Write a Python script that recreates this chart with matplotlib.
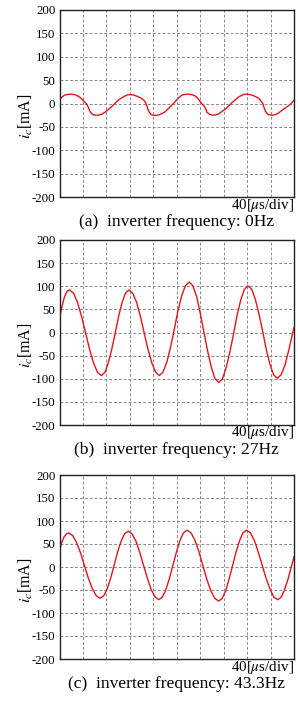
import matplotlib
matplotlib.use("Agg")
import matplotlib.pyplot as plt

plt.rcParams['font.family'] = ['Liberation Serif', 'DejaVu Serif']
plt.rcParams['mathtext.fontset'] = 'stix'

# time axis in divisions (40 us/div), current in mA
t_a = [0.0, 0.11, 0.22, 0.36, 0.51, 0.65, 0.79, 0.9, 1.0, 1.1,
       1.19, 1.29, 1.36, 1.43, 1.55, 1.65, 1.8, 1.93, 2.08, 2.22, 2.36,
       2.5, 2.65, 2.79, 2.9, 3.0, 3.14, 3.28, 3.4, 3.5, 3.6,
       3.67, 3.73, 3.78, 3.85, 3.92, 4.05, 4.21, 4.35, 4.5, 4.64,
       4.78, 4.9, 4.99, 5.1, 5.22, 5.36, 5.5, 5.65, 5.79, 5.9,
       6.0, 6.1, 6.19, 6.25, 6.29, 6.4, 6.5, 6.65, 6.79, 6.93,
       7.07, 7.22, 7.36, 7.5, 7.64, 7.78, 7.93, 8.07, 8.21, 8.35,
       8.5, 8.6, 8.67, 8.72, 8.78, 8.85, 8.92, 9.05, 9.21, 9.35,
       9.5, 9.65, 9.79, 9.9, 10.0]
ic_a = [9, 14, 18, 19.5, 20, 19, 16, 12, 7, 2,
        -4, -16, -21, -24, -25, -25, -23, -19, -13, -7, 0,
        7, 12, 16, 18.5, 19, 18.5, 16, 13.5, 11, 7,
        2, -6, -14, -20, -24, -25.5, -25, -22, -18, -11,
        -4, 2, 7, 13, 18, 19.5, 20, 19, 16, 11,
        4, -2, -7, -13, -19, -23, -25, -24.5, -22, -17,
        -12, -5, 2, 8, 14, 18, 20, 19.5, 18, 15,
        11, 5, 0, -8, -16, -21, -24, -25, -24, -20,
        -14, -9, -4, 1, 7]

t_b = [0.0, 0.1, 0.2, 0.3, 0.37,
       0.43, 0.60, 0.77, 0.94, 1.11, 1.28, 1.45, 1.62,
       1.79, 1.94, 2.08, 2.23, 2.38, 2.52, 2.67, 2.81,
       2.96, 3.12, 3.29, 3.45, 3.61, 3.77, 3.94, 4.10,
       4.26, 4.42, 4.58, 4.74, 4.90, 5.05, 5.21, 5.37,
       5.53, 5.69, 5.85, 6.00, 6.16, 6.32, 6.48, 6.63,
       6.79, 6.95, 7.10, 7.26, 7.42, 7.57, 7.73, 7.88,
       8.04, 8.20, 8.35, 8.51, 8.67, 8.82, 8.98, 9.13,
       9.29, 9.45, 9.62, 9.78, 9.95, 10.0]
ic_b = [31, 55, 75, 87, 91,
        92, 85.0, 64.9, 34.9, -0.5, -35.9, -65.9, -86.0,
        -93, -86.0, -65.9, -35.9, -0.5, 34.9, 64.9, 85.0,
        92, 85.0, 64.9, 34.9, -0.5, -35.9, -65.9, -86.0,
        -93, -85.3, -63.4, -30.7, 8, 46.7, 79.4, 101.3,
        109, 100.8, 77.2, 42.1, 0.5, -41.1, -76.2, -99.8,
        -108, -100.1, -77.4, -43.5, -3.5, 36.5, 70.4, 93.1,
        101, 93.4, 71.7, 39.3, 1, -37.3, -69.7, -91.4,
        -99, -91.4, -69.8, -37.6, 0.5, 10]

t_c = [0.0, 0.1, 0.2, 0.3,
       0.39, 0.56, 0.73, 0.90, 1.065, 1.23, 1.40, 1.57,
       1.74, 1.89, 2.04, 2.19, 2.335, 2.48, 2.63, 2.78,
       2.93, 3.09, 3.26, 3.42, 3.585, 3.75, 3.91, 4.08,
       4.24, 4.39, 4.54, 4.69, 4.84, 4.99, 5.14, 5.29,
       5.44, 5.61, 5.78, 5.95, 6.115, 6.28, 6.45, 6.62,
       6.79, 6.94, 7.09, 7.23, 7.38, 7.53, 7.68, 7.82,
       7.97, 8.14, 8.31, 8.47, 8.64, 8.81, 8.98, 9.14,
       9.31, 9.46, 9.60, 9.75, 9.90, 10.0]
ic_c = [36, 54, 66, 72,
        74, 68.6, 53.2, 30.2, 3, -24.2, -47.2, -62.6,
        -68, -62.5, -46.6, -23, 5, 33, 56.6, 72.5,
        78, 72.3, 56.2, 32, 3.5, -25, -49.2, -65.3,
        -71, -65.3, -48.9, -24.4, 4.5, 33.4, 57.9, 74.3,
        80, 74.1, 57.4, 32.5, 3, -26.5, -51.4, -68.1,
        -74, -68.1, -51.4, -26.5, 3, 32.5, 57.4, 74.1,
        80, 74.3, 57.9, 33.4, 4.5, -24.4, -48.9, -65.3,
        -71, -65.4, -49.3, -25.3, 3, 22]

y_ticks = [-200, -150, -100, -50, 0, 50, 100, 150, 200]
x_divs = list(range(0, 11))
captions = ["(a)  inverter frequency: 0Hz",
            "(b)  inverter frequency: 27Hz",
            "(c)  inverter frequency: 43.3Hz"]
div_label = r"40[$\mu$s/div]"

W, H = 298, 703
fig = plt.figure(figsize=(W / 100, H / 100), dpi=100)

# (top, bottom) of each axes in pixels
panels = [(10, 197), (240, 425), (475, 659)]
left_px, right_px = 59.5, 294
series = [(t_a, ic_a), (t_b, ic_b), (t_c, ic_c)]

for (top, bot), (t, ic), cap in zip(panels, series, captions):
    ax = fig.add_axes([left_px / W, 1 - bot / H, (right_px - left_px) / W, (bot - top) / H])
    ax.plot(t, ic, color='#e4141c', lw=1.0)
    ax.set_xlim(0, 10)
    ax.set_ylim(-200, 200)
    ax.set_xticks(x_divs)
    ax.set_yticks(y_ticks)
    ax.set_yticklabels([str(v) for v in y_ticks])
    ax.tick_params(axis='x', length=0, labelbottom=False)
    ax.tick_params(axis='y', length=0, labelsize=9.3, pad=3)
    ax.grid(True, color='#8a8a8a', lw=0.7, linestyle=(0, (3, 2)))
    for s in ax.spines.values():
        s.set_color('#222222')
        s.set_linewidth(1.0)
    ax.set_ylabel(r"$i_c$[mA]", fontsize=11.5)
    ax.yaxis.set_label_coords(-0.106, 0.43)
    fig.text(right_px / W, 1 - (bot + 8) / H, div_label, ha='right', va='center', fontsize=10.8)
    fig.text((left_px + right_px) / 2 / W, 1 - (bot + 25) / H, cap, ha='center', va='center', fontsize=12.6)

fig.savefig("out.png", dpi=100)
